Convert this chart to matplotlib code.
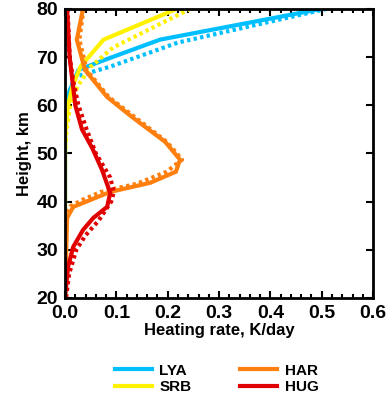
import matplotlib
matplotlib.use("Agg")
import matplotlib.pyplot as plt
from matplotlib.ticker import MultipleLocator

plt.rcParams["font.family"] = ["Liberation Sans", "DejaVu Sans"]
plt.rcParams["font.weight"] = "bold"

# LYA
lya_h   = [80, 73.6, 68.8, 67.3, 61.7, 58, 20]
lya_x   = [0.50, 0.185, 0.062, 0.026, 0.004, 0.0, 0.0]
lya_hd  = [80, 73, 68, 65.9, 62, 58, 20]
lya_xd  = [0.51, 0.22, 0.088, 0.02, 0.005, 0.0, 0.0]

# SRB
srb_h   = [80, 73.6, 68, 64, 60, 55, 50, 37, 20]
srb_x   = [0.218, 0.075, 0.03, 0.015, 0.006, 0.001, 0.0, 0.0, 0.0]
srb_hd  = [80, 72, 68, 64, 60, 55, 50, 37, 20]
srb_xd  = [0.244, 0.094, 0.05, 0.025, 0.01, 0.003, 0.0, 0.0, 0.0]

# HAR
har_h   = [80, 73.6, 67.3, 61.7, 57.6, 52.4, 48.7, 46.2, 43.9, 42, 38.9, 36.6, 20]
har_x   = [0.035, 0.023, 0.039, 0.082, 0.13, 0.195, 0.224, 0.216, 0.166, 0.088, 0.016, 0.004, 0.0]
har_hd  = [80, 73.6, 67.3, 61.7, 57.6, 52.4, 48.7, 46.2, 43.7, 42, 40.4, 39, 37, 20]
har_xd  = [0.036, 0.028, 0.042, 0.085, 0.135, 0.198, 0.228, 0.198, 0.14, 0.07, 0.035, 0.01, 0.0, 0.0]

# HUG
hug_h   = [80, 70, 60, 55, 51.1, 46.6, 41.8, 38.9, 36.6, 34.1, 30.6, 26.5, 20.2]
hug_x   = [0.004, 0.009, 0.02, 0.033, 0.053, 0.072, 0.088, 0.082, 0.055, 0.035, 0.016, 0.006, 0.0]
hug_hd  = [80, 70, 65, 60, 55, 50, 45, 42, 40, 36, 33, 30, 25, 20]
hug_xd  = [0.005, 0.009, 0.016, 0.026, 0.042, 0.06, 0.088, 0.095, 0.09, 0.065, 0.04, 0.022, 0.008, 0.002]

labels = ["LYA", "SRB", "HAR", "HUG"]
colors = ["#00BFFF", "#FFF200", "#FF7F0E", "#E00000"]

fig = plt.figure(figsize=(3.87, 4.01), dpi=100)
ax = fig.add_axes([0.168, 0.257, 0.796, 0.721])

solid = [(lya_x, lya_h), (srb_x, srb_h), (har_x, har_h), (hug_x, hug_h)]
dotted = [(lya_xd, lya_hd), (srb_xd, srb_hd), (har_xd, har_hd), (hug_xd, hug_hd)]

handles = []
for (x, h), (xd, hd), c, lab in zip(solid, dotted, colors, labels):
    l, = ax.plot(x, h, color=c, lw=3, label=lab, solid_joinstyle="miter")
    ax.plot(xd, hd, color=c, lw=3, linestyle=(0, (0.8, 0.8)))
    handles.append(l)

ax.set_xlim(0, 0.6)
ax.set_ylim(20, 80)
ax.xaxis.set_major_locator(MultipleLocator(0.1))
ax.xaxis.set_minor_locator(MultipleLocator(0.02))
ax.yaxis.set_major_locator(MultipleLocator(10))
ax.tick_params(which="both", direction="in", top=True, right=True, width=1.5)
ax.tick_params(which="major", length=5, labelsize=14, pad=5)
ax.tick_params(which="minor", length=3)
ax.tick_params(axis="y", which="minor", left=False, right=False)
for s in ax.spines.values():
    s.set_linewidth(2)
ax.set_xticklabels([f"{v:.1f}" for v in ax.get_xticks()], fontweight="bold")

ax.set_xlabel("Heating rate, K/day", fontsize=12, fontweight="bold", labelpad=1)
ax.set_ylabel("Height, km", fontsize=12, fontweight="bold", labelpad=3)

fig.legend(handles=handles, labels=labels, ncol=2, frameon=False,
           loc="center", bbox_to_anchor=(0.56, 0.055), fontsize=11,
           handlelength=2.4, columnspacing=3.2, handletextpad=0.5, labelspacing=0.15)

fig.savefig("out.png", dpi=100)
